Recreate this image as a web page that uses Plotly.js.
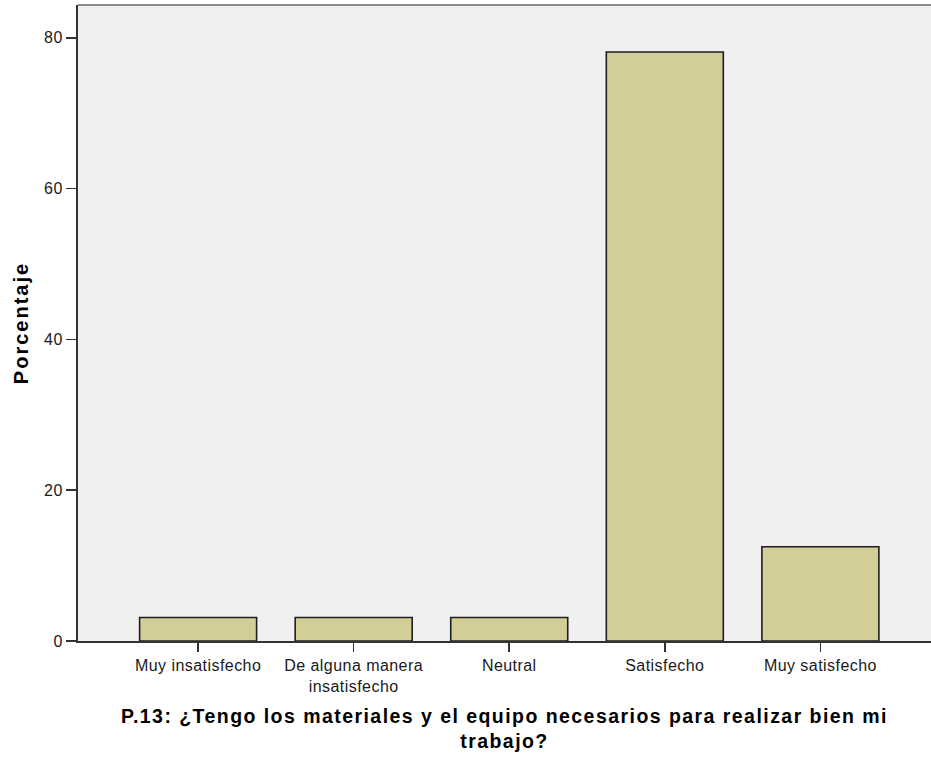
<!DOCTYPE html>
<html>
<head>
<meta charset="utf-8">
<script src="https://cdn.plot.ly/plotly-3.0.1.min.js"></script>
<style>
html,body{margin:0;padding:0;background:#fff;}
#chart{width:931px;height:760px;}
.xtick text{letter-spacing:0.45px;}
.ytick text{letter-spacing:0.5px;}
.ytitle{letter-spacing:2px;}
.annotation-text{letter-spacing:1.45px;}
</style>
</head>
<body>
<div id="chart"></div>
<script>
const categories = ["Muy insatisfecho", "De alguna manera<br>insatisfecho", "Neutral", "Satisfecho", "Muy satisfecho"];
const percentages = [3.125, 3.125, 3.125, 78.125, 12.5];
const yTickValues = [0, 20, 40, 60, 80];
const yTickLabels = ["0", "20", "40", "60", "80"];
const xTitleLines = ["P.13: ¿Tengo los materiales y el equipo necesarios para realizar bien mi", "trabajo?"];
const yTitle = "Porcentaje";

const catIdx = categories.map((_, i) => i);
const font = "Liberation Sans, Arial, sans-serif";

const trace = {
  type: "bar",
  x: catIdx,
  y: percentages,
  width: 0.752,
  marker: {color: "#d3ce98", line: {color: "#1e1e1e", width: 1.6}},
  hoverinfo: "none"
};

const layout = {
  width: 931, height: 760,
  margin: {l: 77.5, r: 0, t: 5, b: 119},
  paper_bgcolor: "#ffffff",
  plot_bgcolor: "#f0f0f0",
  showlegend: false,
  font: {family: font, color: "#1a1a1a"},
  xaxis: {
    range: [-0.772, 4.711],
    tickmode: "array",
    tickvals: catIdx,
    ticktext: categories,
    ticks: "outside", ticklen: 9, tickwidth: 1.5, tickcolor: "#333",
    showline: true, linecolor: "#333", linewidth: 2,
    showgrid: false, zeroline: false,
    tickfont: {size: 16, family: font, color: "#1a1a1a"},
    fixedrange: true
  },
  yaxis: {
    range: [0, 84.35],
    tickmode: "array",
    tickvals: yTickValues,
    ticktext: yTickLabels,
    ticks: "outside", ticklen: 10, tickwidth: 1.5, tickcolor: "#333",
    showline: true, linecolor: "#333", linewidth: 2,
    showgrid: false, zeroline: false,
    tickfont: {size: 16, family: font, color: "#1a1a1a"},
    title: {text: "<b>" + yTitle + "</b>", font: {size: 20, family: font, color: "#000"}, standoff: 10},
    fixedrange: true
  },
  shapes: [
    {type: "line", xref: "paper", yref: "paper", x0: 0, x1: 1, y0: 1, y1: 1, line: {color: "#8a8a8a", width: 2}}
  ],
  annotations: [
    {xref: "paper", yref: "paper", x: 0.5, y: -0.1376, xanchor: "center", yanchor: "middle", showarrow: false,
     align: "center",
     text: "<b>" + xTitleLines.join("<br>") + "</b>", font: {size: 19.5, family: font, color: "#000"}}
  ]
};

Plotly.newPlot("chart", [trace], layout, {displayModeBar: false, staticPlot: true});
</script>
</body>
</html>
